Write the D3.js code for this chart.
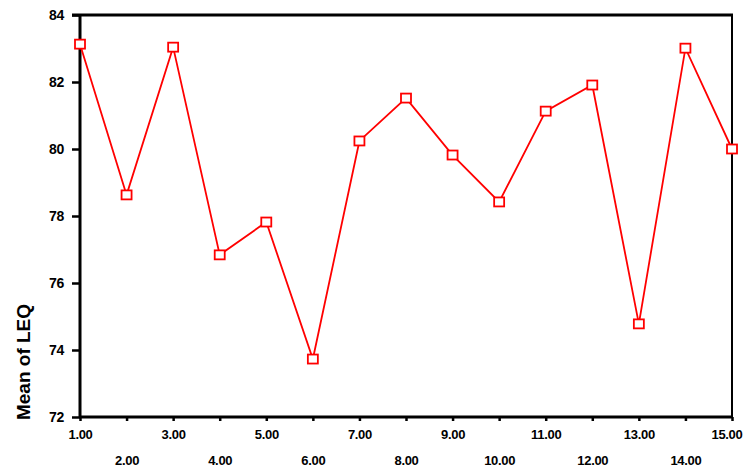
<!DOCTYPE html>
<meta charset="utf-8">
<title>Mean of LEQ</title>
<style>
body { margin: 0; background: #fff; }
text { font-family: "Liberation Sans", Arial, sans-serif; font-weight: bold; fill: #000; }
</style>
<script src="https://d3js.org/d3.v7.min.js"></script>
<div id="chart"></div>
<script>

var xValues = [1, 2, 3, 4, 5, 6, 7, 8, 9, 10, 11, 12, 13, 14, 15];
var leqMeans = [83.13, 78.63, 83.04, 76.84, 77.82, 73.73, 80.24, 81.52, 79.82, 78.42, 81.13, 81.91, 74.78, 83.01, 80.0];
var yTicks = [72, 74, 76, 78, 80, 82, 84];

var width = 746,
    height = 471,
    margin = {top: 15, right: 14, bottom: 54, left: 80};

var svg = d3.select("#chart").append("svg")
    .attr("width", width)
    .attr("height", height);

var x = d3.scaleLinear()
    .domain([1, 15])
    .range([margin.left, width - margin.right]);

var y = d3.scaleLinear()
    .domain([72, 84])
    .range([height - margin.bottom, margin.top]);

// frame: right edge thin, others heavy
svg.append("line")
    .attr("x1", x(15)).attr("x2", x(15))
    .attr("y1", y(84)).attr("y2", y(72))
    .attr("stroke", "#000").attr("stroke-width", 2);
svg.append("line")
    .attr("x1", x(1) - 8).attr("x2", x(15) + 1)
    .attr("y1", y(84)).attr("y2", y(84))
    .attr("stroke", "#000").attr("stroke-width", 3);

// y axis
var yAxis = svg.append("g")
    .attr("transform", "translate(" + x(1) + ",0)")
    .call(d3.axisLeft(y).tickValues(yTicks).tickSize(8).tickPadding(8).tickFormat(d3.format("d")));
yAxis.select(".domain").attr("stroke-width", 3).attr("d", "M0," + y(72) + "V" + y(84));
yAxis.selectAll(".tick line").attr("stroke-width", 2.5);
yAxis.selectAll(".tick text")
    .style("font-size", "14px")
    .style("letter-spacing", "-0.3px");

// x axis
var xAxis = svg.append("g")
    .attr("transform", "translate(0," + y(72) + ")")
    .call(d3.axisBottom(x).tickValues(xValues).tickSize(4).tickPadding(0).tickFormat(d3.format(".2f")));
xAxis.select(".domain").attr("stroke-width", 3).attr("d", "M" + (x(1) - 1) + ",0H" + (x(15) + 1));
xAxis.selectAll(".tick line").attr("stroke-width", 2.5);
xAxis.selectAll(".tick text")
    .style("font-size", "13px")
    .style("letter-spacing", "-0.3px")
    .attr("dy", null)
    .attr("y", function (d) { return d % 2 === 1 ? 22 : 48; });
// last label pulled in so it stays on the page
xAxis.selectAll(".tick text").filter(function (d) { return d === 15; })
    .attr("text-anchor", "end")
    .attr("x", 10);

// y label
svg.append("text")
    .attr("transform", "translate(30,362) rotate(-90)")
    .attr("text-anchor", "middle")
    .style("font-size", "19px")
    .text("Mean of LEQ");

// line
var line = d3.line()
    .x(function (d, i) { return x(xValues[i]); })
    .y(function (d) { return y(d); });

svg.append("path")
    .datum(leqMeans)
    .attr("d", line)
    .attr("fill", "none")
    .attr("stroke", "#ff0000")
    .attr("stroke-width", 1.8);

svg.selectAll("rect.pt")
    .data(leqMeans)
    .enter().append("rect")
    .attr("class", "pt")
    .attr("x", function (d, i) { return x(xValues[i]) - 5; })
    .attr("y", function (d) { return y(d) - 4.5; })
    .attr("width", 10)
    .attr("height", 9)
    .attr("fill", "#fff")
    .attr("stroke", "#ff0000")
    .attr("stroke-width", 1.8);
</script>
